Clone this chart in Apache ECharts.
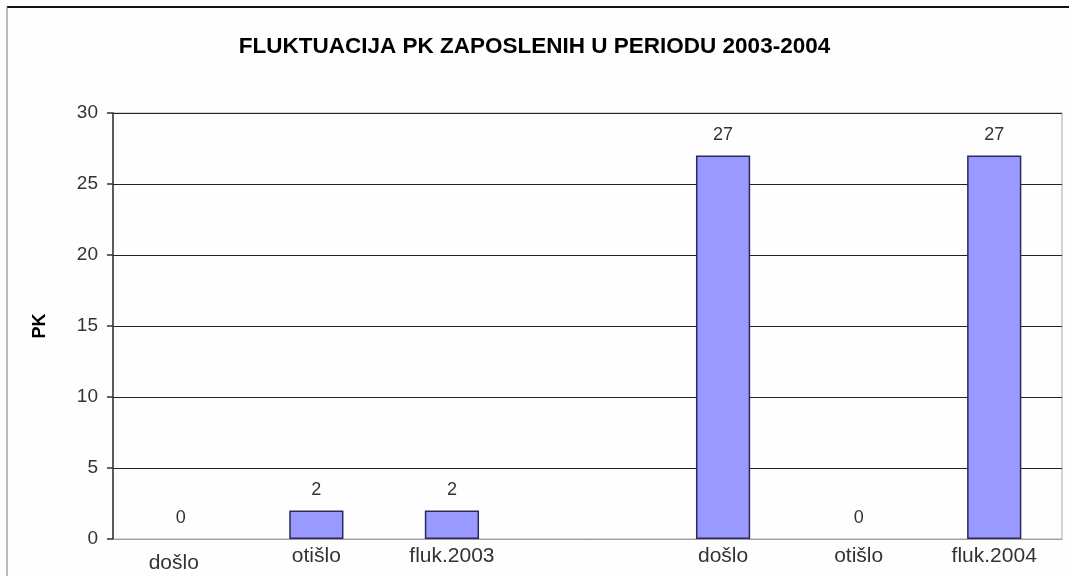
<!DOCTYPE html>
<html>
<head>
<meta charset="utf-8">
<script src="https://cdn.jsdelivr.net/npm/echarts@6/dist/echarts.min.js"></script>
<style>
html,body{margin:0;padding:0;background:#fefefe;}
#c{width:1069px;height:576px;}
</style>
</head>
<body>
<div id="c"></div>
<script>
const titleText = 'FLUKTUACIJA PK ZAPOSLENIH U PERIODU 2003-2004';
const yAxisName = 'PK';
const categories = ['došlo', 'otišlo', 'fluk.2003', '', 'došlo', 'otišlo', 'fluk.2004'];
const values = [0, 2, 2, null, 27, 0, 27];
const yTicks = { min: 0, max: 30, interval: 5 };

const chart = echarts.init(document.getElementById('c'), null, { renderer: 'canvas' });
const font = '"Liberation Sans", Arial, sans-serif';

const catData = categories.map((c, i) => {
  if (i === 0) return { value: c, textStyle: { padding: [7, 14, 0, 0] } };
  return c;
});

const barData = values.map(v => (v === 0 ? { value: v, itemStyle: { borderWidth: 0 } } : v));

chart.setOption({
  backgroundColor: '#fefefe',
  animation: false,
  textStyle: { fontFamily: font },
  title: {
    text: titleText,
    left: 'center',
    top: 30,
    textStyle: { fontFamily: font, fontSize: 22.5, fontWeight: 'bold', color: '#000' }
  },
  graphic: [
    { type: 'line', shape: { x1: 7, y1: 7, x2: 1069, y2: 7 }, style: { stroke: '#111', lineWidth: 2 } },
    { type: 'line', shape: { x1: 7, y1: 7, x2: 7, y2: 576 }, style: { stroke: '#777', lineWidth: 1 } }
  ],
  grid: {
    left: 113, right: 7, top: 113, bottom: 37,
    containLabel: false,
    outerBoundsMode: 'none',
    show: true, borderColor: '#a8a8a8', borderWidth: 1, backgroundColor: 'transparent'
  },
  xAxis: {
    type: 'category',
    data: catData,
    axisLine: { show: true, lineStyle: { color: '#a0a0a0', width: 1 } },
    axisTick: { show: false },
    axisLabel: { color: '#333', fontSize: 21, margin: 7, interval: 0, fontFamily: font }
  },
  yAxis: {
    type: 'value',
    min: yTicks.min, max: yTicks.max, interval: yTicks.interval,
    name: yAxisName,
    nameLocation: 'middle',
    nameGap: 64,
    nameRotate: 90,
    nameTextStyle: { fontSize: 18, fontWeight: 'bold', color: '#000', fontFamily: font },
    axisLine: { show: true, lineStyle: { color: '#333', width: 1.5 } },
    axisTick: { show: true, length: 6, inside: false, lineStyle: { color: '#333', width: 1.5 } },
    axisLabel: { color: '#333', fontSize: 19, margin: 15, fontFamily: font },
    splitLine: { show: true, lineStyle: { color: '#222', width: 1.2 } }
  },
  series: [{
    type: 'bar',
    data: barData,
    barWidth: '40%',
    itemStyle: { color: '#9999ff', borderColor: '#2a2a5a', borderWidth: 1.5 },
    label: {
      show: true, position: 'top', distance: 12,
      color: '#333', fontSize: 18, fontFamily: font
    }
  }]
});
</script>
</body>
</html>
